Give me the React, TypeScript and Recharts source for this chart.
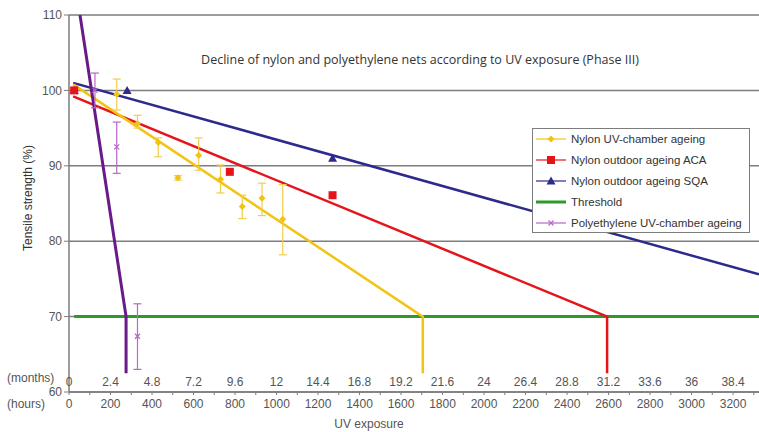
import React from "react";
import { ComposedChart, Line, Scatter, ErrorBar, XAxis, YAxis, CartesianGrid, Legend } from "recharts";

// x ticks: every 100 h, labels every 200 h (2.4 months)
const hourTicks = [
  0, 100, 200, 300, 400, 500, 600, 700, 800, 900, 1000, 1100, 1200, 1300, 1400, 1500, 1600,
  1700, 1800, 1900, 2000, 2100, 2200, 2300, 2400, 2500, 2600, 2700, 2800, 2900, 3000, 3100, 3200, 3300,
];
const hourLabels = ["0", "200", "400", "600", "800", "1000", "1200", "1400", "1600", "1800", "2000", "2200", "2400", "2600", "2800", "3000", "3200"];
const monthLabels = ["0", "2.4", "4.8", "7.2", "9.6", "12", "14.4", "16.8", "19.2", "21.6", "24", "26.4", "28.8", "31.2", "33.6", "36", "38.4"];
const strengthTicks = [60, 70, 80, 90, 100, 110];

// Nylon UV-chamber ageing
const uvHours = [25, 230, 330, 430, 525, 625, 730, 835, 930, 1030];
const uvStrength = [100, 99.5, 95.6, 93.1, 88.4, 91.4, 88.2, 84.6, 85.7, 82.9];
const uvErrLow = [0, 2.1, 0.6, 1.9, 0.3, 2.0, 1.8, 1.6, 2.3, 4.7];
const uvErrHigh = [0, 2.0, 1.1, 0.6, 0.3, 2.3, 1.9, 1.5, 2.0, 4.6];
const uvTrendHours = [20, 1705, 1705];
const uvTrendValues = [100.8, 70, 62.5];

// Nylon outdoor ageing ACA
const acaHours = [25, 775, 1270];
const acaStrength = [100, 89.2, 86.1];
const acaTrendHours = [20, 2593, 2593];
const acaTrendValues = [99.2, 70, 62.5];

// Nylon outdoor ageing SQA
const sqaHours = [25, 280, 1270];
const sqaStrength = [100, 100, 91];
const sqaTrendHours = [20, 3325];
const sqaTrendValues = [101, 75.6];

// Threshold
const thresholdHours = [25, 3325];
const thresholdValues = [70, 70];

// Polyethylene UV-chamber ageing
const peHours = [25, 125, 230, 330];
const peStrength = [100, 100, 92.5, 67.4];
const peErrLow = [0, 2.3, 3.5, 4.4];
const peErrHigh = [0, 2.3, 3.3, 4.3];
const peTrendHours = [53, 275, 275];
const peTrendValues = [110, 70, 62.5];

const YELLOW = "#f3c311";
const RED = "#e5141b";
const NAVY = "#2c2a8c";
const GREEN = "#2b9a2b";
const PURPLE = "#6a1a88";
const LILAC = "#b668c4";
const GREY = "#7d7d7d";
const FONT = "'Liberation Sans', Arial, sans-serif";

const pts = (hs: number[], vs: number[], lo?: number[], hi?: number[]) =>
  hs.map((h, i) => ({ h, v: vs[i], err: lo && hi ? [lo[i], hi[i]] : undefined }));

const uvData = pts(uvHours, uvStrength, uvErrLow, uvErrHigh);
const acaData = pts(acaHours, acaStrength);
const sqaData = pts(sqaHours, sqaStrength);
const peData = pts(peHours, peStrength, peErrLow, peErrHigh);

const legendItems = [
  { name: "Nylon UV-chamber ageing", color: YELLOW, marker: "diamond", thick: false },
  { name: "Nylon outdoor ageing ACA", color: RED, marker: "square", thick: false },
  { name: "Nylon outdoor ageing SQA", color: NAVY, marker: "triangle", thick: false },
  { name: "Threshold", color: GREEN, marker: "none", thick: true },
  { name: "Polyethylene UV-chamber ageing", color: LILAC, marker: "x", thick: false },
];

function Marker({ kind, cx, cy, color }: { kind: string; cx: number; cy: number; color: string }) {
  if (kind === "diamond") {
    return <path d={`M${cx},${cy - 3.5}L${cx + 3.5},${cy}L${cx},${cy + 3.5}L${cx - 3.5},${cy}Z`} fill={color} />;
  }
  if (kind === "square") return <rect x={cx - 4} y={cy - 4} width={8} height={8} fill={color} />;
  if (kind === "triangle") {
    return <path d={`M${cx},${cy - 4.5}L${cx + 4.5},${cy + 3.5}L${cx - 4.5},${cy + 3.5}Z`} fill={color} />;
  }
  if (kind === "x") {
    return (
      <path d={`M${cx - 2.5},${cy - 2.5}L${cx + 2.5},${cy + 2.5}M${cx + 2.5},${cy - 2.5}L${cx - 2.5},${cy + 2.5}`} stroke={color} strokeWidth={1.2} />
    );
  }
  return null;
}

const shapeOf = (kind: string, color: string) => (p: any) => <Marker kind={kind} cx={p.cx} cy={p.cy} color={color} />;

function XTick(props: any) {
  const { x, y, payload } = props;
  const idx = hourTicks.indexOf(payload.value);
  if (idx % 2 !== 0) return null;
  const k = idx / 2;
  const axisY = y - 5;
  return (
    <g fontFamily={FONT} fontSize={12} fill="#555">
      <text x={x} y={axisY - 6} textAnchor="middle">{monthLabels[k]}</text>
      <text x={x} y={axisY + 16} textAnchor="middle">{hourLabels[k]}</text>
    </g>
  );
}

function LegendBox() {
  return (
    <div
      style={{
        width: 216,
        height: 103,
        border: `1px solid ${GREY}`,
        background: "#fff",
        fontFamily: FONT,
        fontSize: 11.5,
        color: "#333",
        boxSizing: "content-box",
      }}
    >
      {legendItems.map((it) => (
        <div key={it.name} style={{ display: "flex", alignItems: "center", height: 20.8, marginTop: 0 }}>
          <svg width={36} height={12} style={{ marginLeft: 2 }}>
            <line x1={1} y1={6} x2={31} y2={6} stroke={it.color} strokeWidth={it.thick ? 3 : 1.2} />
            <Marker kind={it.marker} cx={16} cy={6} color={it.color} />
          </svg>
          <span>{it.name}</span>
        </div>
      ))}
    </div>
  );
}

export default function App() {
  return (
    <div style={{ position: "absolute", left: 0, top: 0, width: 759, height: 432, background: "#fff" }}>
      <ComposedChart width={759} height={432} margin={{ top: 15, right: 0, bottom: 0, left: 0 }}>
        <CartesianGrid vertical={false} stroke={GREY} strokeWidth={1.5} />
        <XAxis
          type="number"
          dataKey="h"
          domain={[0, 3325]}
          ticks={hourTicks}
          interval={0}
          height={40}
          allowDataOverflow
          axisLine={{ stroke: GREY, strokeWidth: 1.5 }}
          tickLine={{ stroke: GREY }}
          tickSize={3}
          tickMargin={2}
          tick={<XTick />}
        />
        <YAxis
          type="number"
          dataKey="v"
          domain={[60, 110]}
          ticks={strengthTicks}
          width={69}
          allowDataOverflow
          axisLine={{ stroke: GREY, strokeWidth: 1.5 }}
          tickLine={{ stroke: GREY }}
          tickSize={5}
          tickMargin={2}
          tick={{ fill: "#555", fontSize: 12, fontFamily: FONT }}
        />
        <Line data={pts(thresholdHours, thresholdValues)} dataKey="v" stroke={GREEN} strokeWidth={3} dot={false} isAnimationActive={false} />
        <Line data={pts(sqaTrendHours, sqaTrendValues)} dataKey="v" stroke={NAVY} strokeWidth={2.5} dot={false} isAnimationActive={false} />
        <Line data={pts(acaTrendHours, acaTrendValues)} dataKey="v" stroke={RED} strokeWidth={2.5} dot={false} isAnimationActive={false} />
        <Line data={pts(uvTrendHours, uvTrendValues)} dataKey="v" stroke={YELLOW} strokeWidth={2.5} dot={false} isAnimationActive={false} />
        <Line data={pts(peTrendHours, peTrendValues)} dataKey="v" stroke={PURPLE} strokeWidth={3} dot={false} isAnimationActive={false} />
        <Scatter data={uvData} dataKey="v" shape={shapeOf("diamond", YELLOW)} isAnimationActive={false}>
          <ErrorBar dataKey="err" direction="y" width={4} stroke="#f2cd4a" strokeWidth={1.2} />
        </Scatter>
        <Scatter data={peData} dataKey="v" shape={shapeOf("x", LILAC)} isAnimationActive={false}>
          <ErrorBar dataKey="err" direction="y" width={4} stroke={LILAC} strokeWidth={1.2} />
        </Scatter>
        <Scatter data={sqaData} dataKey="v" shape={shapeOf("triangle", NAVY)} isAnimationActive={false} />
        <Scatter data={acaData} dataKey="v" shape={shapeOf("square", RED)} isAnimationActive={false} />
        <Legend
          layout="vertical"
          align="center"
          verticalAlign="middle"
          content={() => <LegendBox />}
          wrapperStyle={{ left: 532, top: 128, width: 218, height: 105 }}
        />
        <text x={420} y={64} textAnchor="middle" fontFamily="'Open Sans', sans-serif" fontSize={12.5} fill="#333">
          Decline of nylon and polyethylene nets according to UV exposure (Phase III)
        </text>
        <text x={32} y={198} transform="rotate(-90 32 198)" textAnchor="middle" fontFamily={FONT} fontSize={12} fill="#333">
          Tensile strength (%)
        </text>
        <text x={7} y={382} fontFamily={FONT} fontSize={12} fill="#555">(months)</text>
        <text x={7} y={408} fontFamily={FONT} fontSize={12} fill="#555">(hours)</text>
        <text x={369} y={428} textAnchor="middle" fontFamily={FONT} fontSize={12} fill="#555">UV exposure</text>
      </ComposedChart>
    </div>
  );
}
